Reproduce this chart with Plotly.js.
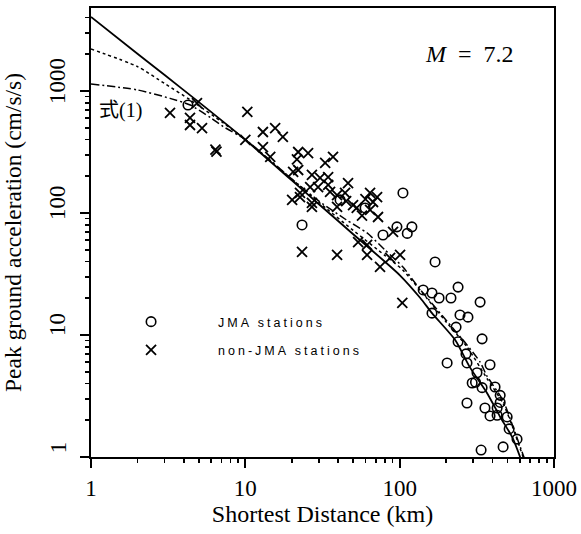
<!DOCTYPE html>
<html><head><meta charset="utf-8">
<script src="https://cdn.plot.ly/plotly-3.0.1.min.js"></script>
<style>
html,body{margin:0;padding:0;background:#fff;}
#chart{width:581px;height:534px;}
.legendtext{letter-spacing:3px;}
</style></head><body><div id="chart"></div>
<script>
// JMA stations (circles): distance km, PGA cm/s/s
const jmaDist = [4.25, 41.1, 59.7, 23.3, 78, 96, 120, 112, 105, 169.6, 239, 142, 162, 180, 215, 332, 162, 246, 277, 232, 342, 239, 203, 269, 273, 385, 317, 295, 310, 342, 415, 448, 448, 357, 428, 273, 385, 428, 497, 512, 576, 337, 468];
const jmaPGA  = [767, 128, 110, 79.8, 66, 77, 77, 68, 146, 39.7, 24.7, 23.4, 22.1, 20.1, 20.1, 18.6, 15.1, 14.6, 14, 11.6, 9.3, 8.8, 5.9, 7.0, 5.9, 5.7, 4.9, 4.04, 4.1, 3.7, 3.75, 3.2, 2.8, 2.52, 2.52, 2.77, 2.17, 2.2, 2.13, 1.7, 1.4, 1.14, 1.21];
// non-JMA stations (crosses)
const nonDist = [3.25, 4.38, 4.38, 4.86, 5.24, 6.4, 6.5, 10.3, 10, 13, 15.6, 17.5, 13, 14.5, 20.1, 22, 25.5, 20.4, 22, 27, 30.5, 34.4, 32.9, 37, 46.3, 26.3, 29.6, 34.4, 35.4, 39.3, 44.3, 39.3, 49.9, 52.7, 64.3, 71.4, 67.2, 72.4, 64.3, 90.6, 23.3, 39.3, 22.6, 27, 53.8, 61.5, 61.5, 74.6, 100.6, 86.7, 104, 22.6, 27, 45, 57, 60, 21.6];
const nonPGA  = [660, 601, 526, 796, 497, 330, 318, 673, 398, 461, 497, 420, 347, 288, 128, 316, 310, 217, 225, 205, 194, 197, 257, 288, 176, 163, 163, 170, 149, 140, 146, 112, 116, 110, 146, 135, 123, 92.7, 106, 70, 47.9, 45.3, 135, 112, 57.8, 54.7, 45.3, 36.1, 45.3, 42.8, 18.3, 146, 121, 125, 95, 130, 275];
// attenuation curves
const solidDist = [1, 2, 3, 5, 10, 20, 30, 50, 80, 100, 136, 162, 229, 286, 368, 448, 535, 603, 640];
const solidPGA  = [4045, 2020, 1350, 810, 398, 185, 118, 67, 40, 31, 20.1, 15.1, 9.1, 5.4, 3.35, 2.13, 1.46, 1.0, 0.8];
const dotDist = [1, 2, 3, 4.4, 7.2, 10, 15, 20, 30, 50, 80, 105, 150, 200, 273, 368, 468, 540, 631, 660];
const dotPGA  = [2208, 1585, 1150, 844, 547, 400, 258, 190, 122, 72, 45, 34, 20, 12.8, 8.0, 4.4, 2.75, 1.75, 1.0, 0.85];
const dashDist = [1, 2, 3.25, 4.4, 6, 7.2, 10, 15, 20, 30, 45, 61.5, 80, 105, 132, 197, 273, 332, 368, 468, 540, 631, 660];
const dashPGA  = [1140, 1020, 870, 767, 600, 510, 400, 260, 190, 125, 88, 68.6, 50, 36, 24.7, 13.5, 8.3, 6.0, 4.6, 2.9, 1.8, 1.04, 0.9];
const xTicks = [1, 10, 100, 1000];
const xTickText = ['1', '10', '100', '1000'];
const xMinor = [2,3,4,5,6,7,8,9,20,30,40,50,60,70,80,90,200,300,400,500,600,700,800,900];
const yTicks = [1, 10, 100, 1000];
const yTickText = ['1', '10', '100', '1000'];
const yMinor = [2,3,4,5,6,7,8,9,20,30,40,50,60,70,80,90,200,300,400,500,600,700,800,900,2000,3000,4000];

const serif = 'Liberation Serif, Times New Roman, serif';
const traces = [
  {x: solidDist, y: solidPGA, mode: 'lines', line: {color: '#000', width: 1.8, shape: 'spline', smoothing: 0.6}, showlegend: false, hoverinfo: 'skip'},
  {x: dotDist, y: dotPGA, mode: 'lines', line: {color: '#000', width: 1.5, dash: 'dot', shape: 'spline', smoothing: 0.6}, showlegend: false, hoverinfo: 'skip'},
  {x: dashDist, y: dashPGA, mode: 'lines', line: {color: '#000', width: 1.5, dash: '8px,3px,2px,3px', shape: 'spline', smoothing: 0.6}, showlegend: false, hoverinfo: 'skip'},
  {x: jmaDist, y: jmaPGA, mode: 'markers', name: 'JMA stations', legendgroup: 'a',
   marker: {symbol: 'circle-open', size: 9.5, color: '#000', line: {width: 1.6, color: '#000'}}},
  {x: nonDist, y: nonPGA, mode: 'markers', name: 'non-JMA stations', legendgroup: 'b',
   marker: {symbol: 'x-thin-open', size: 10, color: '#000', line: {width: 1.8, color: '#000'}}},
  // empty trace that carries the minor-tick overlay axes
  {x: [], y: [], xaxis: 'x2', yaxis: 'y2', showlegend: false, hoverinfo: 'skip'}
];
const yLabelAnns = yTicks.map((v, i) => ({
  xref: 'paper', yref: 'paper', x: -0.071, y: Math.log10(v) / 3.68, text: yTickText[i], textangle: -90,
  showarrow: false, xanchor: 'center', yanchor: 'middle', yshift: 10,
  font: {family: serif, size: 23, color: '#000'}
}));
const layout = {
  width: 581, height: 534,
  margin: {l: 91, r: 27, t: 8, b: 77, pad: 0},
  paper_bgcolor: '#fff', plot_bgcolor: '#fff',
  font: {family: serif, size: 23, color: '#000'},
  showlegend: true,
  legend: {x: -0.015, y: 0.334, xanchor: 'left', yanchor: 'top', bgcolor: 'rgba(0,0,0,0)',
    font: {family: 'Liberation Sans, Arial, sans-serif', size: 12.5, color: '#000'},
    itemwidth: 124, tracegroupgap: 9},
  xaxis: {type: 'log', range: [0, 3], showgrid: false, zeroline: false,
    showline: true, linewidth: 2, linecolor: '#000', mirror: true,
    ticks: 'outside', ticklen: 9, tickwidth: 2, tickcolor: '#000',
    tickmode: 'array', tickvals: xTicks, ticktext: xTickText,
    tickfont: {family: serif, size: 23},
    title: {text: 'Shortest Distance (km)', font: {family: serif, size: 24}, standoff: 6}},
  yaxis: {type: 'log', range: [0, 3.68], showgrid: false, zeroline: false,
    showline: true, linewidth: 2, linecolor: '#000', mirror: true,
    ticks: 'outside', ticklen: 9, tickwidth: 2, tickcolor: '#000',
    tickmode: 'array', tickvals: yTicks, showticklabels: false,
    title: {text: 'Peak ground acceleration (cm/s/s)', font: {family: serif, size: 23.5}, standoff: 54}},
  xaxis2: {type: 'log', range: [0, 3], overlaying: 'x', anchor: 'y', side: 'bottom',
    showgrid: false, zeroline: false, showline: false, showticklabels: false,
    ticks: 'outside', ticklen: 5, tickwidth: 1.6, tickcolor: '#000',
    tickmode: 'array', tickvals: xMinor},
  yaxis2: {type: 'log', range: [0, 3.68], overlaying: 'y', anchor: 'x', side: 'left',
    showgrid: false, zeroline: false, showline: false, showticklabels: false,
    ticks: 'outside', ticklen: 5, tickwidth: 1.6, tickcolor: '#000',
    tickmode: 'array', tickvals: yMinor},
  annotations: [
    {xref: 'paper', yref: 'paper', x: 0.818, y: 0.8975, xanchor: 'center', yanchor: 'middle',
     text: '<i>M</i>&nbsp; =&nbsp; 7.2', showarrow: false,
     font: {family: serif, size: 24, color: '#000'}},
    {xref: 'paper', yref: 'paper', x: 0.063, y: 0.771, xanchor: 'center', yanchor: 'middle',
     text: '式(1)', showarrow: false,
     font: {family: 'Liberation Serif, Noto Sans CJK JP, serif', size: 20, color: '#000'}}
  ].concat(yLabelAnns)
};
Plotly.newPlot('chart', traces, layout, {staticPlot: true});
</script></body></html>
